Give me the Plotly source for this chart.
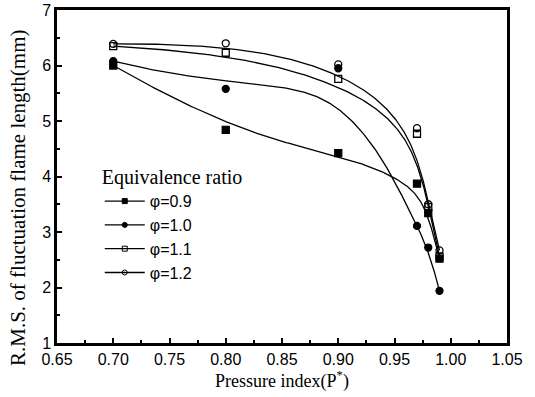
import numpy as np
import plotly.graph_objects as go

pressure = [0.70, 0.80, 0.90, 0.97, 0.98, 0.99]
phi_09 = [6.00, 4.84, 4.42, 3.87, 3.34, 2.52]
phi_10 = [6.08, 5.58, 5.95, 3.11, 2.72, 1.94]
phi_11 = [6.35, 6.23, 5.76, 4.77, 3.45, 2.56]
phi_12 = [6.39, 6.40, 6.02, 4.87, 3.50, 2.67]
names = ["\u03c6=0.9", "\u03c6=1.0", "\u03c6=1.1", "\u03c6=1.2"]
symbols = ["square", "circle", "square-open", "circle-open"]


def bspline(xs, ys, degree=3, n=300):
    pts = np.column_stack([xs, ys])
    m = len(pts)
    inner = np.linspace(0, 1, m - degree + 1)
    knots = np.concatenate([[0] * degree, inner, [1] * degree])

    def basis(i, k, t):
        if k == 0:
            if knots[i] <= t < knots[i + 1] or (t == 1 and knots[i + 1] == 1 and knots[i] < 1):
                return 1.0
            return 0.0
        a = 0.0
        d1 = knots[i + k] - knots[i]
        if d1 > 0:
            a += (t - knots[i]) / d1 * basis(i, k - 1, t)
        d2 = knots[i + k + 1] - knots[i + 1]
        if d2 > 0:
            a += (knots[i + k + 1] - t) / d2 * basis(i + 1, k - 1, t)
        return a

    ts = np.linspace(0, 1, n)
    out = []
    for t in ts:
        w = np.array([basis(i, degree, t) for i in range(m)])
        out.append(w @ pts)
    out = np.array(out)
    return out[:, 0], out[:, 1]


fig = go.Figure()
series = [phi_09, phi_10, phi_11, phi_12]
for name, sym, ys in zip(names, symbols, series):
    cx, cy = bspline(pressure, ys)
    fig.add_trace(go.Scatter(x=cx, y=cy, mode="lines", line=dict(color="black", width=1.3),
                             showlegend=False, hoverinfo="skip"))
    fig.add_trace(go.Scatter(x=pressure, y=ys, mode="markers",
                             marker=dict(symbol=sym, size=7, color="black",
                                         line=dict(color="black", width=1.3)),
                             showlegend=False))
    fig.add_trace(go.Scatter(x=[None], y=[None], mode="lines+markers", name=name,
                             line=dict(color="black", width=1.3),
                             marker=dict(symbol=sym, size=5, color="black",
                                         line=dict(color="black", width=1.0))))

serif = "Liberation Serif"
sans = "Liberation Sans"
fig.update_layout(
    width=535, height=397,
    margin=dict(l=57, r=28, t=10, b=54),
    paper_bgcolor="white", plot_bgcolor="white",
    showlegend=True,
    legend=dict(x=0.095, y=0.555, xanchor="left", yanchor="top",
                title=dict(text="Equivalence ratio", font=dict(family=serif, size=20, color="black")),
                font=dict(family=sans, size=16, color="black"),
                bgcolor="rgba(0,0,0,0)", tracegroupgap=1, itemwidth=40),
    xaxis=dict(range=[0.65, 1.05], tickvals=[0.65, 0.70, 0.75, 0.80, 0.85, 0.90, 0.95, 1.00, 1.05],
               ticktext=["0.65", "0.70", "0.75", "0.80", "0.85", "0.90", "0.95", "1.00", "1.05"],
               ticks="inside", ticklen=5, tickwidth=1.5, tickcolor="black",
               minor=dict(tickvals=[0.675, 0.725, 0.775, 0.825, 0.875, 0.925, 0.975, 1.025],
                          ticks="inside", ticklen=3, tickwidth=1.5, tickcolor="black"),
               showline=True, linewidth=2.5, linecolor="black", mirror=True,
               showgrid=False, zeroline=False, automargin=False,
               tickfont=dict(family=sans, size=16, color="black"),
               title=dict(text="Pressure index(P<sup>*</sup>)", standoff=2,
                          font=dict(family=serif, size=18, color="black"))),
    yaxis=dict(range=[1, 7], tickvals=[1, 2, 3, 4, 5, 6, 7],
               ticks="inside", ticklen=5, tickwidth=1.5, tickcolor="black",
               minor=dict(tickvals=[1.5, 2.5, 3.5, 4.5, 5.5, 6.5],
                          ticks="inside", ticklen=3, tickwidth=1.5, tickcolor="black"),
               showline=True, linewidth=2.5, linecolor="black", mirror=True,
               showgrid=False, zeroline=False, automargin=False,
               tickfont=dict(family=sans, size=16, color="black")),
    annotations=[dict(text="R.M.S. of fluctuation flame length(mm)", textangle=-90,
                      xref="paper", yref="paper", x=-0.087, y=0.438,
                      xanchor="center", yanchor="middle", showarrow=False,
                      font=dict(family=serif, size=21, color="black"))],
)

fig.write_html("out.html")
